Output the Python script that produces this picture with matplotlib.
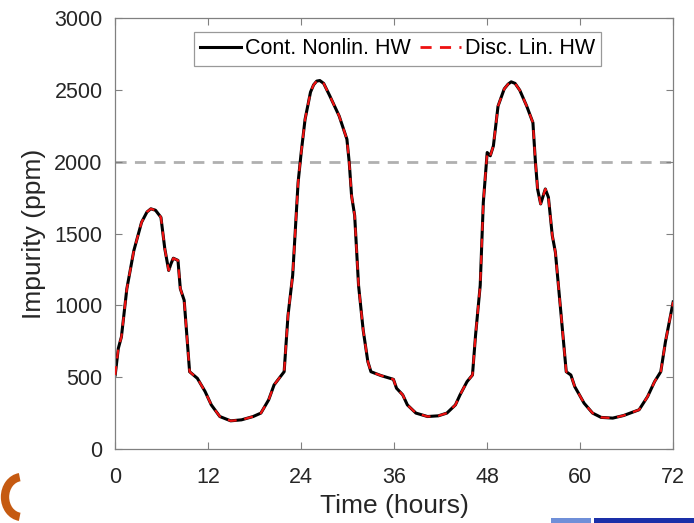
import numpy as np
import matplotlib.pyplot as plt
from matplotlib.patches import Arc, Rectangle

# Impurity trace (time in hours, ppm)
time_h = [0, 0.4, 0.8, 1.5, 2.4, 3.4, 4.1, 4.6, 5.2, 5.9, 6.4, 6.9, 7.2, 7.5, 8.1, 8.4, 8.9,
          9.6, 10.6, 11.6, 12.4, 13.5, 14.9, 16.3, 17.8, 18.8, 19.8, 20.5, 21.8,
          22.3, 22.9, 23.6, 24.0, 24.5, 25.2, 25.6, 26.0, 26.4, 26.9, 27.7, 28.9, 29.9, 30.2,
          30.5, 30.9, 31.4, 32.0, 32.6, 33.0, 34.3, 35.9, 36.3, 37.1, 37.7, 38.8,
          40.3, 41.7, 42.8, 43.9, 44.5, 45.4, 46.1, 46.5, 47.1, 47.5, 48.0, 48.4,
          48.8, 49.4, 50.2, 50.7, 51.1, 51.6, 52.2, 53.1, 53.9, 54.2, 54.5, 54.9, 55.5, 55.9,
          56.4, 56.8, 57.5, 58.2, 58.8, 59.3, 59.9, 60.5, 61.6, 62.7, 64.2, 65.6,
          67.6, 68.7, 69.6, 70.4, 71.0, 72.0]
impurity = [515, 700, 780, 1115, 1380, 1578, 1650, 1672, 1662, 1613, 1394, 1243, 1290, 1328,
            1313, 1116, 1035, 538, 492, 400, 307, 226, 196, 203, 226, 250, 342, 446,
            538, 931, 1209, 1856, 2064, 2295, 2484, 2535, 2561, 2565, 2545, 2457, 2318, 2156,
            1994, 1763, 1625, 1139, 827, 608, 538, 511, 485, 423, 377, 307, 250, 226,
            231, 250, 307, 377, 469, 515, 793, 1139, 1717, 2064, 2041, 2110, 2387,
            2507, 2540, 2556, 2545, 2498, 2387, 2272, 2018, 1810, 1706, 1810, 1752, 1486, 1370,
            955, 538, 515, 434, 377, 319, 250, 220, 215, 233, 273, 365, 469, 538,
            746, 1024]
limit_ppm = 2000

x_ticks = [0, 12, 24, 36, 48, 60, 72]
y_ticks = [0, 500, 1000, 1500, 2000, 2500, 3000]

plt.rcParams['font.family'] = ['Liberation Sans', 'DejaVu Sans']

fig = plt.figure(figsize=(6.94, 5.23), dpi=100)
ax = fig.add_axes([0.166, 0.1415, 0.804, 0.824])

ax.axhline(limit_ppm, color='#b0b0b0', lw=2, ls=(0, (4, 3)), zorder=1)
ax.plot(time_h, impurity, color='black', lw=2.2, solid_joinstyle='round',
        label='Cont. Nonlin. HW', zorder=2)
ax.plot(time_h, impurity, color='#ee1111', lw=1.6, ls=(0, (4, 3.5)),
        dash_joinstyle='round', label='Disc. Lin. HW', zorder=3)

ax.set_xlim(0, 72)
ax.set_ylim(0, 3000)
ax.set_xticks(x_ticks)
ax.set_yticks(y_ticks)
ax.tick_params(direction='in', top=True, right=True, length=5, width=0.8,
               colors='#808080', labelcolor='#262626', labelsize=15.5)
ax.tick_params(axis='x', pad=13)
ax.tick_params(axis='y', pad=9)
for s in ax.spines.values():
    s.set_color('#808080')
    s.set_linewidth(0.9)

ax.set_xlabel('Time (hours)', fontsize=19, color='#262626', labelpad=4)
ax.set_ylabel('Impurity (ppm)', fontsize=19, color='#262626', labelpad=6)

leg = ax.legend(loc='upper center', bbox_to_anchor=(0.506, 0.968), ncol=2,
                fontsize=15.5, frameon=True, fancybox=False, handlelength=1.9,
                columnspacing=0.4, handletextpad=0.2, borderpad=0.3,
                borderaxespad=0)
leg.get_frame().set_edgecolor('#808080')
leg.get_frame().set_linewidth(0.9)
# legend sample of the red line shows two longer dashes
leg.get_lines()[1].set_linestyle((0, (4, 3)))
leg.get_lines()[1].set_linewidth(2)

# bits of the neighbouring slide graphics visible at the bottom edge
W, H = 694, 523
fig.patches.append(Arc((22 / W, 26 / H), 34 / W, 40 / H, theta1=95, theta2=265,
                       transform=fig.transFigure, color='#c55a11', lw=6))
fig.patches.append(Rectangle((551 / W, 0), 40 / W, 5 / H, transform=fig.transFigure,
                             color='#6f8fd8', lw=0))
fig.patches.append(Rectangle((594 / W, 0), 100 / W, 5 / H, transform=fig.transFigure,
                             color='#1a2fa8', lw=0))

fig.savefig('out.png', dpi=100)
